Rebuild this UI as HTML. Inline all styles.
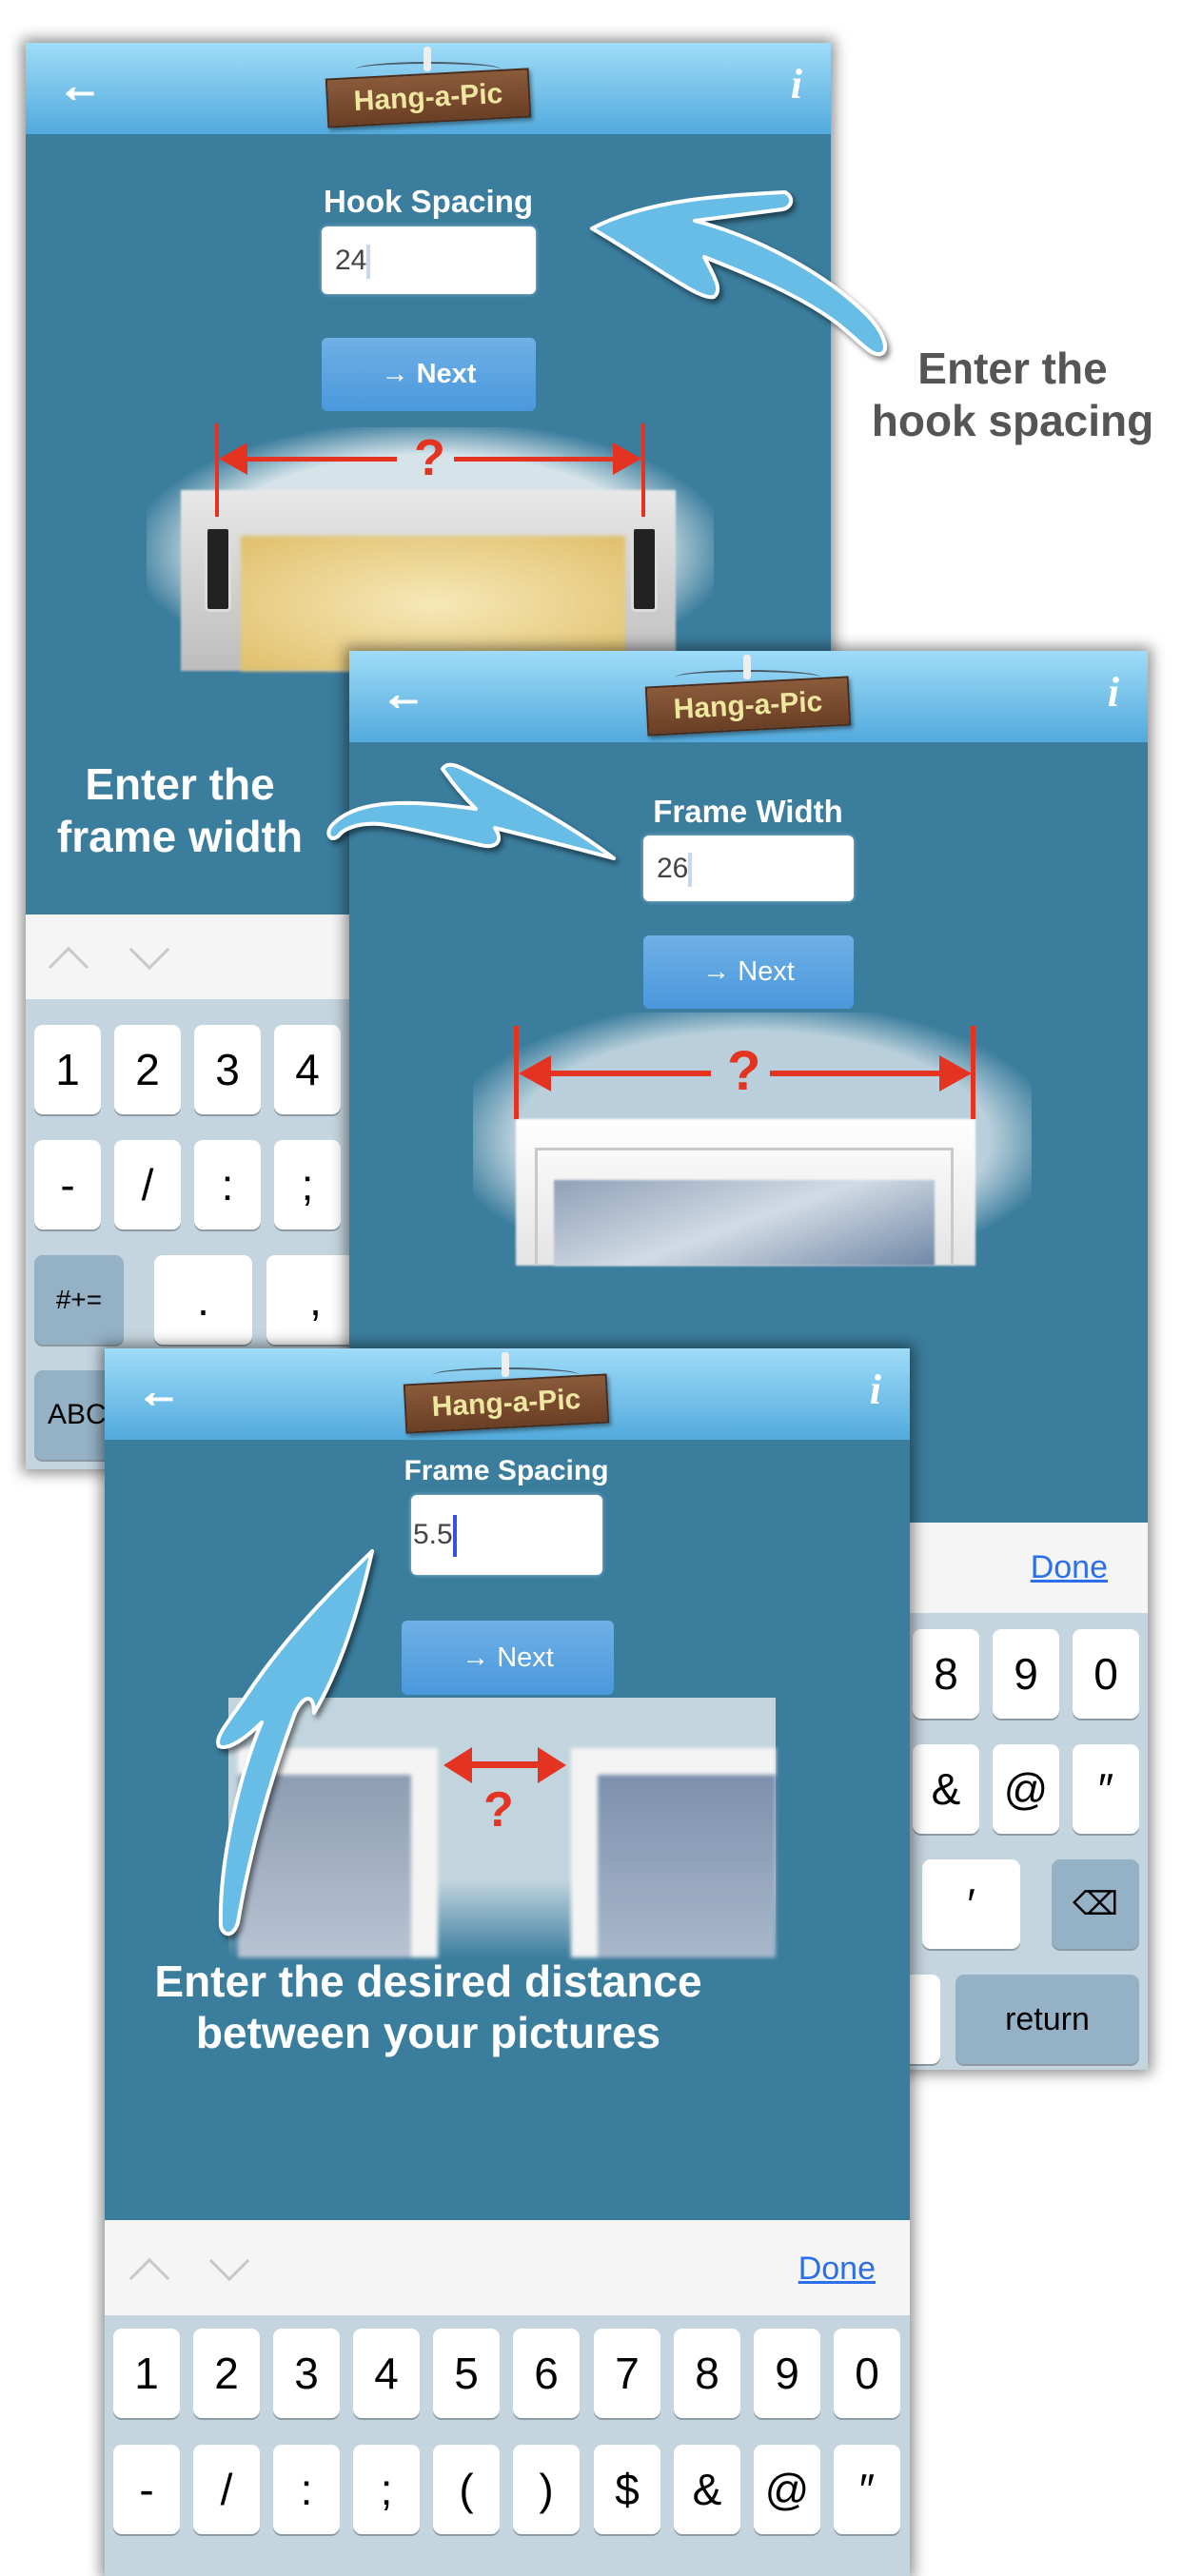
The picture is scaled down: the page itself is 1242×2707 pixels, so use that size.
<!DOCTYPE html>
<html><head><meta charset="utf-8"><style>
*{margin:0;padding:0;box-sizing:border-box}
body{width:1242px;height:2688px;background:#fff;position:relative;overflow:hidden;font-family:"Liberation Sans",sans-serif}
.abs{position:absolute}
.scr{position:absolute;background:#3b7d9d;overflow:hidden;box-shadow:0 0 14px 4px rgba(0,0,0,.45)}
.hdr{position:absolute;left:0;top:0;width:100%;height:96px;background:linear-gradient(#9fdcf8,#52aadd)}
.back{position:absolute;left:34px;top:18px;color:#fff;font-size:46px;font-weight:bold;-webkit-text-stroke:2px #fff}
.info{position:absolute;right:30px;top:18px;color:#fff;font-size:44px;font-style:italic;font-family:"Liberation Serif",serif;font-weight:bold}
.logo{position:absolute;top:0;width:214px;height:96px;margin-left:-107px}
.logo .board{position:absolute;left:0;top:32px;width:214px;height:52px;background:linear-gradient(#8a5a3a,#6b3f25);border:2px solid #4a2a18;transform:rotate(-3deg);box-shadow:2px 3px 4px rgba(0,0,0,.4);color:#efe6a0;font-size:30px;font-weight:bold;text-align:center;line-height:48px;font-family:"Liberation Sans Narrow","Liberation Sans",sans-serif}
.logo .hook{position:absolute;left:102px;top:4px;width:8px;height:26px;background:#eee;border-radius:3px}
.logo .str{position:absolute;left:30px;top:20px;width:154px;height:16px;border-top:2px solid #4a5a66;border-radius:50% 50% 0 0}
.lbl{position:absolute;color:#fff;font-weight:bold;text-align:center;transform:translateX(-50%);white-space:nowrap}
.inp{position:absolute;background:#fff;border-radius:6px;box-shadow:0 0 4px rgba(180,210,240,.8);font-size:30px;color:#444;padding-left:14px}
.cur{display:inline-block;width:4px;background:#c7d6f7;vertical-align:middle}
.nxt{position:absolute;background:linear-gradient(#6fb0e6,#4a98dc);border-radius:6px;color:#fff;font-size:29px;font-weight:bold;text-align:center}
.tb{position:absolute;left:0;width:100%;background:#f5f5f5}
.kb{position:absolute;left:0;width:100%;background:#c5d5df}
.key{position:absolute;background:#fff;border-radius:9px;box-shadow:0 2px 0 #8d99a3;text-align:center;font-size:46px;color:#000}
.dk{background:#94b1c5}
.chev{position:absolute;width:30px;height:30px;border-left:3px solid #c8c8c8;border-top:3px solid #c8c8c8}
.done{position:absolute;color:#2b6fea;font-size:34px;text-decoration:underline}
.call{position:absolute;font-weight:bold;font-size:46px;text-align:center;line-height:55px;white-space:nowrap;transform:translateX(-50%)}
</style></head><body>

<!-- SCREEN 1 -->
<div class="scr" style="left:27px;top:45px;width:846px;height:1499px">
 <div class="hdr"><div class="back">&#x2190;</div><div class="info">i</div>
  <div class="logo" style="left:423px"><div class="str"></div><div class="hook"></div><div class="board">Hang-a-Pic</div></div></div>
 <div class="lbl" style="left:423px;top:148px;font-size:33px">Hook Spacing</div>
 <div class="inp" style="left:311px;top:193px;width:225px;height:71px;line-height:71px">24<span class="cur" style="height:36px"></span></div>
 <div class="nxt" style="left:311px;top:310px;width:225px;height:77px;line-height:77px">&#x2192; Next</div>
 <div class="abs" style="left:127px;top:404px;width:596px;height:258px;background:radial-gradient(ellipse at center,#d6e4ea 55%,rgba(59,125,157,0) 75%)"></div>
 <div class="abs" style="left:163px;top:470px;width:520px;height:190px;background:linear-gradient(#e8e8e8,#bdbdbd);filter:blur(1px)"></div>
 <div class="abs" style="left:226px;top:518px;width:404px;height:142px;background:radial-gradient(ellipse,#f7e8b8,#dfbf6a);filter:blur(2px)"></div>
 <div class="abs" style="left:199px;top:400px;width:4px;height:98px;background:#e53322"></div>
 <div class="abs" style="left:647px;top:400px;width:4px;height:98px;background:#e53322"></div>
 <div class="abs" style="left:210px;top:435px;width:180px;height:5px;background:#e53322"></div>
 <div class="abs" style="left:450px;top:435px;width:190px;height:5px;background:#e53322"></div>
 <div class="abs" style="left:203px;top:420px;border-right:30px solid #e53322;border-top:17px solid transparent;border-bottom:17px solid transparent"></div>
 <div class="abs" style="left:617px;top:420px;border-left:30px solid #e53322;border-top:17px solid transparent;border-bottom:17px solid transparent"></div>
 <div class="abs" style="left:408px;top:405px;color:#e53322;font-size:54px;font-weight:bold">?</div>
 <div class="abs" style="left:188px;top:508px;width:28px;height:90px;background:#222;border-radius:5px;border:3px solid #ddd"></div>
 <div class="abs" style="left:636px;top:508px;width:28px;height:90px;background:#222;border-radius:5px;border:3px solid #ddd"></div>
 <div class="tb" style="top:916px;height:89px"><div class="chev" style="left:30px;top:40px;transform:rotate(45deg)"></div><div class="chev" style="left:115px;top:22px;transform:rotate(225deg)"></div></div>
 <div class="kb" style="top:1005px;height:500px">
  <div class="key" style="left:9px;top:27px;width:70px;height:94px;line-height:94px">1</div>
  <div class="key" style="left:93px;top:27px;width:70px;height:94px;line-height:94px">2</div>
  <div class="key" style="left:177px;top:27px;width:70px;height:94px;line-height:94px">3</div>
  <div class="key" style="left:261px;top:27px;width:70px;height:94px;line-height:94px">4</div>
  <div class="key" style="left:9px;top:148px;width:70px;height:94px;line-height:94px">-</div>
  <div class="key" style="left:93px;top:148px;width:70px;height:94px;line-height:94px">/</div>
  <div class="key" style="left:177px;top:148px;width:70px;height:94px;line-height:94px">:</div>
  <div class="key" style="left:261px;top:148px;width:70px;height:94px;line-height:94px">;</div>
  <div class="key dk" style="left:9px;top:269px;width:94px;height:94px;line-height:94px;font-size:28px">#+=</div>
  <div class="key" style="left:135px;top:269px;width:103px;height:94px;line-height:94px">.</div>
  <div class="key" style="left:253px;top:269px;width:103px;height:94px;line-height:94px">,</div>
  <div class="key dk" style="left:9px;top:390px;width:94px;height:94px;line-height:94px;font-size:30px;text-align:left;padding-left:14px">ABC</div>
 </div>
</div>

<!-- SCREEN 2 -->
<div class="scr" style="left:367px;top:684px;width:839px;height:1491px">
 <div class="hdr"><div class="back">&#x2190;</div><div class="info">i</div>
  <div class="logo" style="left:419px"><div class="str"></div><div class="hook"></div><div class="board">Hang-a-Pic</div></div></div>
 <div class="lbl" style="left:419px;top:150px;font-size:33px">Frame Width</div>
 <div class="inp" style="left:309px;top:194px;width:221px;height:69px;line-height:69px">26<span class="cur" style="height:36px"></span></div>
 <div class="nxt" style="left:309px;top:299px;width:221px;height:77px;line-height:77px;font-weight:normal">&#x2192; Next</div>
 <div class="abs" style="left:130px;top:380px;width:587px;height:266px;background:radial-gradient(ellipse at center,#b9d0dc 60%,rgba(59,125,157,0) 78%)"></div>
 <div class="abs" style="left:175px;top:492px;width:483px;height:154px;background:linear-gradient(#fff,#e4e4e4);filter:blur(1px)"></div>
 <div class="abs" style="left:195px;top:522px;width:440px;height:124px;border:3px solid #c9c9c9;border-bottom:none"></div>
 <div class="abs" style="left:215px;top:556px;width:400px;height:90px;background:linear-gradient(160deg,#8fa0b8,#d2dbe5,#6f87a6);filter:blur(1px)"></div>
 <div class="abs" style="left:173px;top:394px;width:5px;height:98px;background:#e53322"></div>
 <div class="abs" style="left:653px;top:394px;width:5px;height:98px;background:#e53322"></div>
 <div class="abs" style="left:190px;top:441px;width:190px;height:6px;background:#e53322"></div>
 <div class="abs" style="left:442px;top:441px;width:195px;height:6px;background:#e53322"></div>
 <div class="abs" style="left:178px;top:425px;border-right:34px solid #e53322;border-top:19px solid transparent;border-bottom:19px solid transparent"></div>
 <div class="abs" style="left:620px;top:425px;border-left:34px solid #e53322;border-top:19px solid transparent;border-bottom:19px solid transparent"></div>
 <div class="abs" style="left:397px;top:408px;color:#e53322;font-size:58px;font-weight:bold">?</div>
 <div class="tb" style="top:916px;height:95px"><div class="done" style="right:42px;top:28px">Done</div></div>
 <div class="kb" style="top:1011px;height:480px">
  <div class="key" style="left:592px;top:17px;width:70px;height:94px;line-height:94px">8</div>
  <div class="key" style="left:676px;top:17px;width:70px;height:94px;line-height:94px">9</div>
  <div class="key" style="left:760px;top:17px;width:70px;height:94px;line-height:94px">0</div>
  <div class="key" style="left:592px;top:138px;width:70px;height:94px;line-height:94px">&amp;</div>
  <div class="key" style="left:676px;top:138px;width:70px;height:94px;line-height:94px">@</div>
  <div class="key" style="left:760px;top:138px;width:70px;height:94px;line-height:94px">&#x2033;</div>
  <div class="key" style="left:602px;top:259px;width:103px;height:94px;line-height:94px">&#x2032;</div>
  <div class="key dk" style="left:738px;top:259px;width:92px;height:94px;line-height:94px;font-size:34px">&#x232B;</div>
  <div class="key" style="left:540px;top:380px;width:81px;height:94px"></div>
  <div class="key dk" style="left:637px;top:380px;width:193px;height:94px;line-height:94px;font-size:34px">return</div>
 </div>
</div>

<!-- SCREEN 3 -->
<div class="scr" style="left:110px;top:1417px;width:846px;height:1290px">
 <div class="hdr"><div class="back">&#x2190;</div><div class="info">i</div>
  <div class="logo" style="left:422px"><div class="str"></div><div class="hook"></div><div class="board">Hang-a-Pic</div></div></div>
 <div class="lbl" style="left:422px;top:112px;font-size:30px">Frame Spacing</div>
 <div class="inp" style="left:322px;top:154px;width:201px;height:84px;line-height:84px;padding-left:2px">5.5<span class="cur" style="height:44px;background:#3552e0"></span></div>
 <div class="nxt" style="left:312px;top:286px;width:223px;height:78px;line-height:78px;font-weight:normal">&#x2192; Next</div>
 <div class="abs" style="left:130px;top:367px;width:575px;height:274px;background:linear-gradient(#c2d5de 70%,rgba(59,125,157,0))"></div>
 <div class="abs" style="left:140px;top:420px;width:210px;height:220px;border-right:28px solid #f4f4f4;border-top:28px solid #f4f4f4;background:linear-gradient(#8e9db2,#b8c4d4);filter:blur(2px)"></div>
 <div class="abs" style="left:490px;top:420px;width:215px;height:220px;border-left:28px solid #f4f4f4;border-top:28px solid #f4f4f4;background:linear-gradient(#7c90ad,#a9b8cc);filter:blur(2px)"></div>
 <div class="abs" style="left:372px;top:434px;width:96px;height:7px;background:#e53322"></div>
 <div class="abs" style="left:356px;top:419px;border-right:30px solid #e53322;border-top:19px solid transparent;border-bottom:19px solid transparent"></div>
 <div class="abs" style="left:455px;top:419px;border-left:30px solid #e53322;border-top:19px solid transparent;border-bottom:19px solid transparent"></div>
 <div class="abs" style="left:398px;top:455px;color:#e53322;font-size:52px;font-weight:bold">?</div>
 <div class="tb" style="top:916px;height:100px"><div class="chev" style="left:32px;top:46px;transform:rotate(45deg)"></div><div class="chev" style="left:116px;top:28px;transform:rotate(225deg)"></div><div class="done" style="right:36px;top:32px">Done</div></div>
 <div class="kb" style="top:1016px;height:300px">
  <div class="key" style="left:9px;top:14px;width:70px;height:94px;line-height:94px">1</div>
  <div class="key" style="left:93px;top:14px;width:70px;height:94px;line-height:94px">2</div>
  <div class="key" style="left:177px;top:14px;width:70px;height:94px;line-height:94px">3</div>
  <div class="key" style="left:261px;top:14px;width:70px;height:94px;line-height:94px">4</div>
  <div class="key" style="left:345px;top:14px;width:70px;height:94px;line-height:94px">5</div>
  <div class="key" style="left:429px;top:14px;width:70px;height:94px;line-height:94px">6</div>
  <div class="key" style="left:514px;top:14px;width:70px;height:94px;line-height:94px">7</div>
  <div class="key" style="left:598px;top:14px;width:70px;height:94px;line-height:94px">8</div>
  <div class="key" style="left:682px;top:14px;width:70px;height:94px;line-height:94px">9</div>
  <div class="key" style="left:766px;top:14px;width:70px;height:94px;line-height:94px">0</div>
  <div class="key" style="left:9px;top:136px;width:70px;height:94px;line-height:94px">-</div>
  <div class="key" style="left:93px;top:136px;width:70px;height:94px;line-height:94px">/</div>
  <div class="key" style="left:177px;top:136px;width:70px;height:94px;line-height:94px">:</div>
  <div class="key" style="left:261px;top:136px;width:70px;height:94px;line-height:94px">;</div>
  <div class="key" style="left:345px;top:136px;width:70px;height:94px;line-height:94px">(</div>
  <div class="key" style="left:429px;top:136px;width:70px;height:94px;line-height:94px">)</div>
  <div class="key" style="left:514px;top:136px;width:70px;height:94px;line-height:94px">$</div>
  <div class="key" style="left:598px;top:136px;width:70px;height:94px;line-height:94px">&amp;</div>
  <div class="key" style="left:682px;top:136px;width:70px;height:94px;line-height:94px">@</div>
  <div class="key" style="left:766px;top:136px;width:70px;height:94px;line-height:94px">&#x2033;</div>
 </div>
</div>

<svg class="abs" style="left:0;top:0" width="1242" height="2688">
 <defs><filter id="sh"><feDropShadow dx="3" dy="4" stdDeviation="3" flood-opacity=".5"/></filter></defs>
 <g fill="#68bde6" stroke="#fff" stroke-width="4" filter="url(#sh)" stroke-linejoin="round">
  <path d="M622,240 C680,210 760,205 825,202 C835,208 832,218 822,220 L730,232 C800,250 870,290 910,330 C930,350 935,370 925,372 C915,374 905,360 880,340 C840,310 790,290 740,270 C750,290 760,305 750,312 C735,316 690,280 622,240 Z"/>
  <path d="M645,902 C600,890 560,880 520,870 C530,885 520,892 505,888 C460,878 430,870 400,866 C375,864 360,872 356,878 C348,886 340,876 350,866 C375,840 430,840 500,850 C480,830 470,815 465,808 C470,800 480,804 495,812 C560,845 610,875 645,902 Z"/>
  <path d="M391,1630 C380,1680 360,1750 330,1800 C330,1780 320,1780 310,1800 C280,1880 260,1960 250,2020 C246,2035 235,2036 232,2024 C230,1960 250,1870 275,1810 C260,1825 240,1840 230,1835 C225,1825 240,1810 260,1780 C300,1720 350,1670 391,1630 Z"/>
 </g>
</svg>

<div class="call" style="left:1064px;top:360px;color:#555">Enter the<br>hook spacing</div>
<div class="call" style="left:189px;top:797px;color:#fff">Enter the<br>frame width</div>
<div class="call" style="left:450px;top:2055px;color:#fff;line-height:54px">Enter the desired distance<br>between your pictures</div>

</body></html>
